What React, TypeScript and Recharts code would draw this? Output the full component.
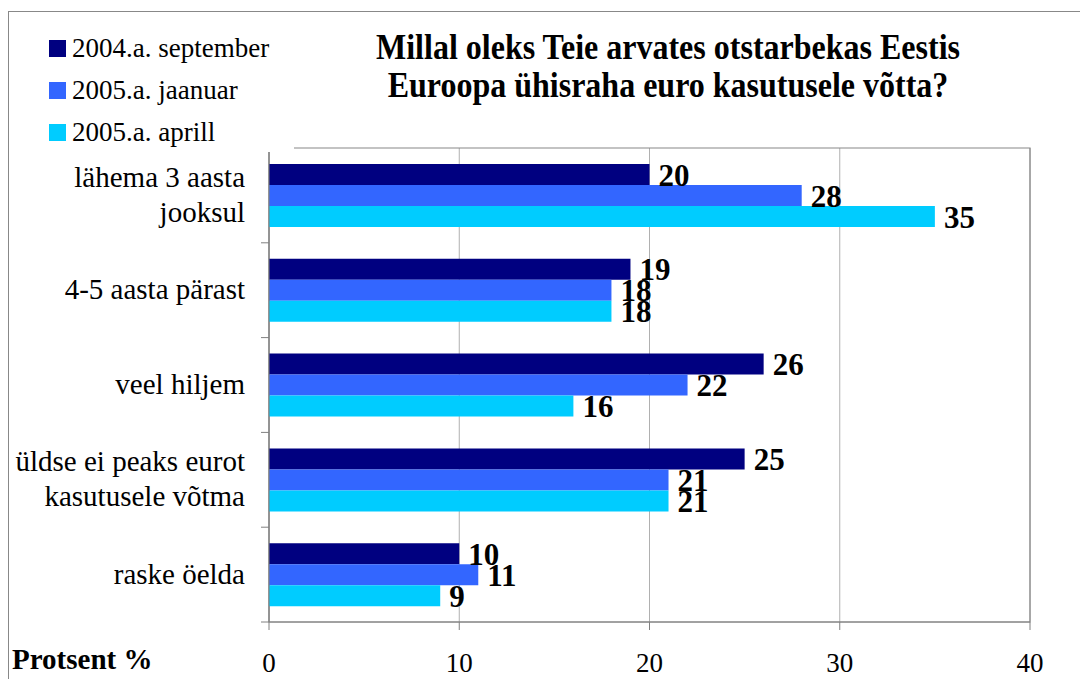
import { BarChart, Bar, XAxis, YAxis, CartesianGrid, LabelList, Legend, ReferenceArea } from 'recharts'

const categories = ['lähema 3 aasta\njooksul', '4-5 aasta pärast', 'veel hiljem', 'üldse ei peaks eurot\nkasutusele võtma', 'raske öelda']
const sep2004 = [20, 19, 26, 25, 10]
const jan2005 = [28, 18, 22, 21, 11]
const apr2005 = [35, 18, 16, 21, 9]
const xTicks = [0, 10, 20, 30, 40]

const SERIES = [
  { key: 'sep2004', name: '2004.a. september', color: '#000080' },
  { key: 'jan2005', name: '2005.a. jaanuar', color: '#3366FF' },
  { key: 'apr2005', name: '2005.a. aprill', color: '#00CCFF' },
]

const FONT = 'serif'

const data = categories.map((name, i) => ({
  name,
  sep2004: sep2004[i],
  jan2005: jan2005[i],
  apr2005: apr2005[i],
}))

function CategoryTick(props: any) {
  const { x, y, payload, index } = props
  const lines = String(payload.value).split('\n')
  const half = payload.offset ?? 47.4
  const axisX = x + 24
  const lh = 35
  const start = -((lines.length - 1) * lh) / 2
  return (
    <g>
      <line x1={axisX - 8} x2={axisX} y1={y - half} y2={y - half} stroke="#808080" />
      {index === categories.length - 1 && (
        <line x1={axisX - 8} x2={axisX} y1={y + half} y2={y + half} stroke="#808080" />
      )}
      <text x={x} y={y} textAnchor="end" fontFamily={FONT} fontSize={29} fill="#000">
        {lines.map((l, i) => (
          <tspan key={i} x={x} dy={i === 0 ? start + 9 : lh}>{l}</tspan>
        ))}
      </text>
    </g>
  )
}

function ValueTick(props: any) {
  const { x, y, payload } = props
  return (
    <text x={x} y={y + 40} textAnchor="middle" fontFamily={FONT} fontSize={27} fill="#000">
      {payload.value}
    </text>
  )
}

// legend drawn in series order (recharts sorts payload by name otherwise)
function LegendBox() {
  return (
    <div style={{ width: '100%', height: '100%', background: '#fff', position: 'relative' }}>
      {SERIES.map((it, i) => (
        <div key={it.key} style={{ position: 'absolute', left: 39, top: 20 + i * 42, display: 'flex', alignItems: 'center', whiteSpace: 'nowrap' }}>
          <span style={{ display: 'inline-block', width: 17, height: 17, background: it.color, marginRight: 6 }} />
          <span style={{ fontFamily: FONT, fontSize: 27, color: '#000', lineHeight: '30px' }}>{it.name}</span>
        </div>
      ))}
    </div>
  )
}

export default function App() {
  return (
    <div style={{ position: 'absolute', left: 0, top: 0, width: 1080, height: 679, overflow: 'hidden', background: '#fff' }}>
      <div style={{ position: 'absolute', left: 8, top: 11, width: 1200, height: 800, border: '1.5px solid #888' }} />
      <div style={{ position: 'absolute', left: 0, top: 0 }}>
        <BarChart
          width={1080}
          height={679}
          data={data}
          layout="vertical"
          margin={{ top: 148, right: 50, bottom: 0, left: 0 }}
          barGap={0}
          barSize={21}
        >
          <CartesianGrid horizontal={false} vertical stroke="#b0b0b0" />
          <ReferenceArea x1={0} x2={40} fill="none" stroke="#888" strokeWidth={1.2} ifOverflow="visible" />
          <XAxis
            type="number"
            domain={[0, 40]}
            ticks={xTicks}
            interval={0}
            height={57}
            axisLine={{ stroke: '#808080' }}
            tickLine={{ stroke: '#808080' }}
            tickSize={8}
            tick={<ValueTick />}
          />
          <YAxis
            type="category"
            dataKey="name"
            width={269}
            interval={0}
            axisLine={{ stroke: '#808080' }}
            tickLine={{ stroke: 'none' }}
            tickSize={8}
            tickMargin={16}
            tick={<CategoryTick />}
          />
          <Legend
            layout="vertical"
            align="center"
            verticalAlign="middle"
            content={<LegendBox />}
            wrapperStyle={{ left: 10, top: 13, width: 284, height: 139, bottom: 'auto', right: 'auto' }}
          />
          {SERIES.map(s => (
            <Bar key={s.key} dataKey={s.key} name={s.name} fill={s.color} isAnimationActive={false}>
              <LabelList
                dataKey={s.key}
                position="right"
                offset={9}
                fill="#000"
                fontFamily={FONT}
                fontSize={31}
                fontWeight="bold"
              />
            </Bar>
          ))}
        </BarChart>
      </div>
      <div style={{ position: 'absolute', left: 318, width: 700, top: 32, textAlign: 'center', fontFamily: FONT, fontWeight: 'bold', fontSize: 32, lineHeight: '34px', color: '#000', transform: 'scaleY(1.12)' }}>
        Millal oleks Teie arvates otstarbekas Eestis<br />Euroopa ühisraha euro kasutusele võtta?
      </div>
      <div style={{ position: 'absolute', left: 12, top: 642, fontFamily: FONT, fontWeight: 'bold', fontSize: 29, lineHeight: '34px', color: '#000' }}>
        Protsent %
      </div>
    </div>
  )
}
